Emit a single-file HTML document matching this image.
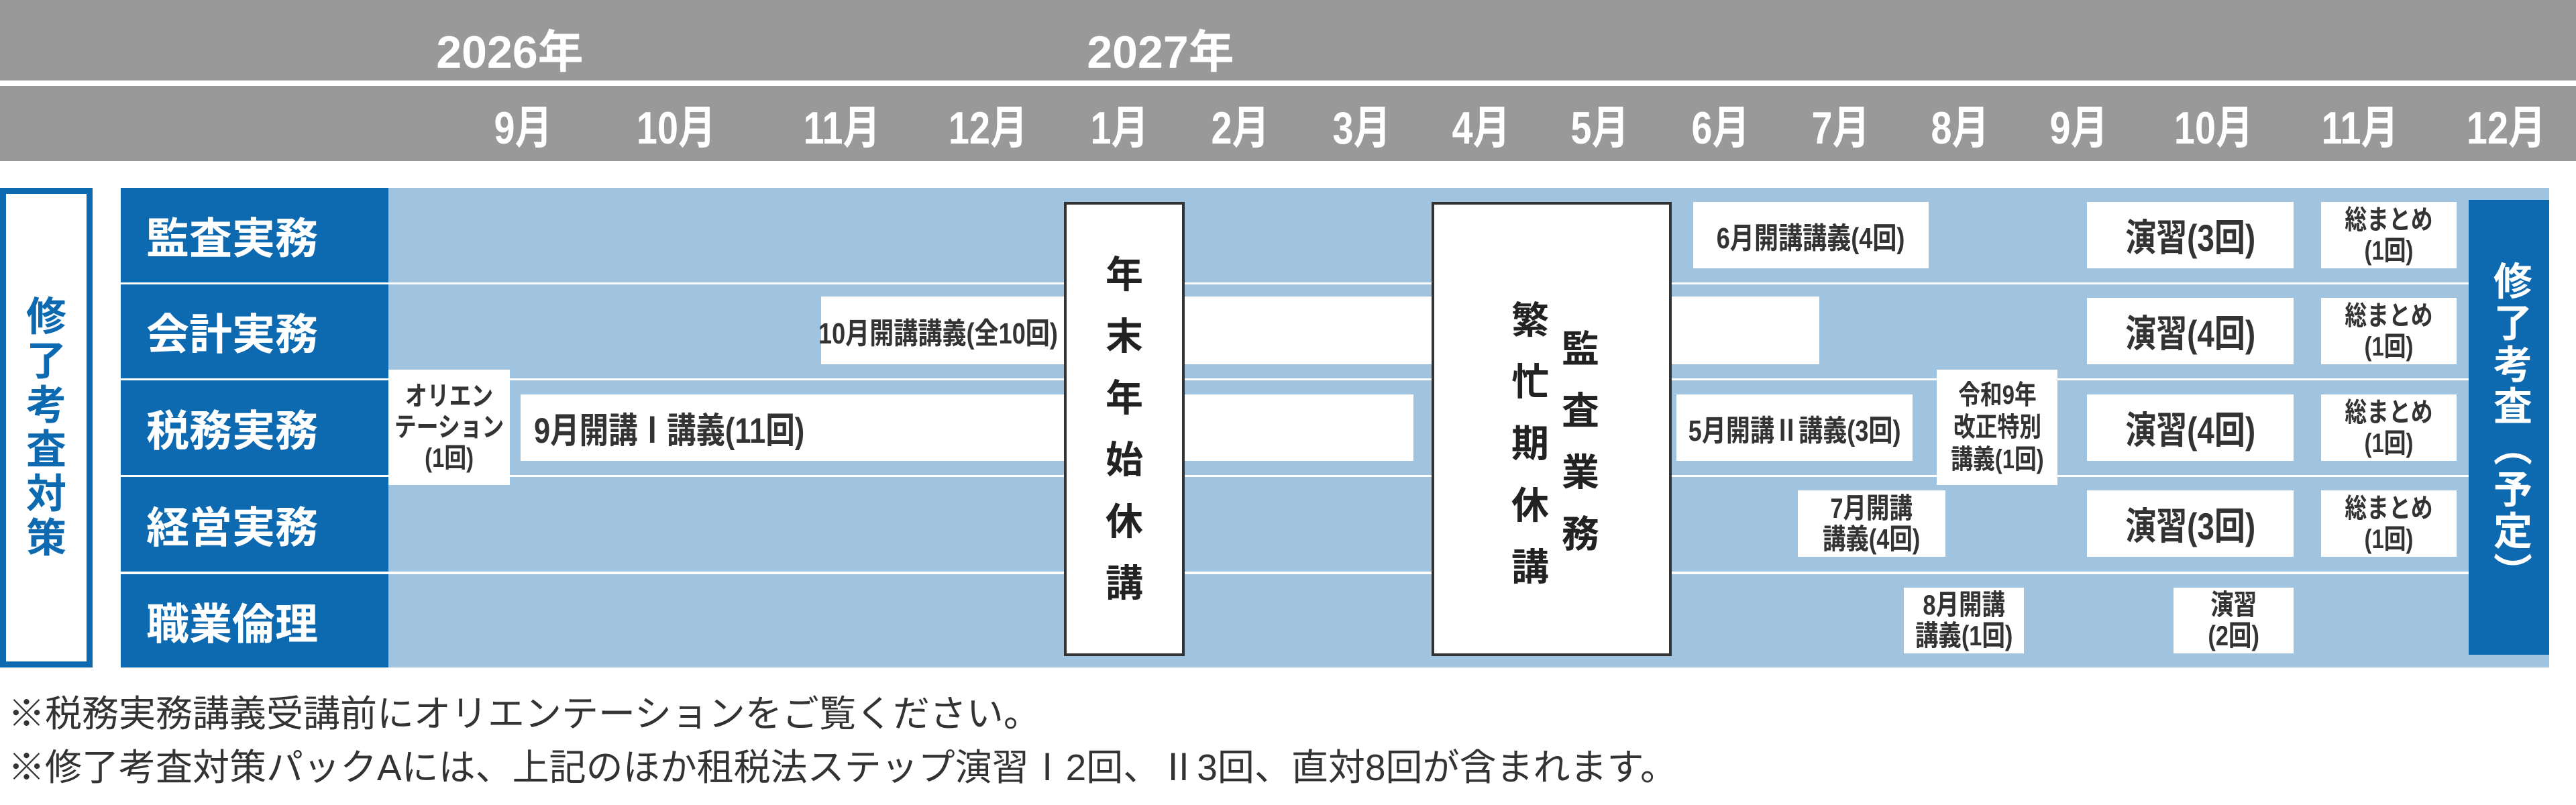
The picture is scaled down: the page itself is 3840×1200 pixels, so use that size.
<!DOCTYPE html>
<html><head><meta charset="utf-8">
<style>
*{margin:0;padding:0;box-sizing:border-box}
body{width:3840px;height:1200px;background:#fff;position:relative;overflow:hidden;font-family:"Liberation Sans","Noto Sans CJK JP",sans-serif;}
.a{position:absolute}
.c{position:absolute;display:flex;align-items:center;justify-content:center;text-align:center}
.s{display:inline-block;transform:scaleX(0.82);white-space:nowrap}
.w{background:#fff;color:#333;font-weight:bold}
.hd{color:#fff;font-weight:bold;font-size:68px}
.cat{background:#0d6ab0;color:#fff;font-weight:bold;font-size:64px;left:180px;width:399px;justify-content:flex-start;padding-left:38px}
.v{line-height:1}
</style></head><body>
<div class="a" style="left:0;top:0;width:3840px;height:120px;background:#999"></div>
<div class="a" style="left:0;top:128px;width:3840px;height:112px;background:#999"></div>
<div class="c hd" style="left:600px;top:28px;width:320px;height:86px;font-size:68px"><span>2026年</span></div>
<div class="c hd" style="left:1570px;top:28px;width:320px;height:86px;font-size:68px"><span>2027年</span></div>
<div class="c hd" style="left:700px;top:140px;width:160px;height:88px"><span class="s">9月</span></div>
<div class="c hd" style="left:928px;top:140px;width:160px;height:88px"><span class="s">10月</span></div>
<div class="c hd" style="left:1175px;top:140px;width:160px;height:88px"><span class="s">11月</span></div>
<div class="c hd" style="left:1393px;top:140px;width:160px;height:88px"><span class="s">12月</span></div>
<div class="c hd" style="left:1589px;top:140px;width:160px;height:88px"><span class="s">1月</span></div>
<div class="c hd" style="left:1769px;top:140px;width:160px;height:88px"><span class="s">2月</span></div>
<div class="c hd" style="left:1950px;top:140px;width:160px;height:88px"><span class="s">3月</span></div>
<div class="c hd" style="left:2128px;top:140px;width:160px;height:88px"><span class="s">4月</span></div>
<div class="c hd" style="left:2305px;top:140px;width:160px;height:88px"><span class="s">5月</span></div>
<div class="c hd" style="left:2485px;top:140px;width:160px;height:88px"><span class="s">6月</span></div>
<div class="c hd" style="left:2664px;top:140px;width:160px;height:88px"><span class="s">7月</span></div>
<div class="c hd" style="left:2842px;top:140px;width:160px;height:88px"><span class="s">8月</span></div>
<div class="c hd" style="left:3019px;top:140px;width:160px;height:88px"><span class="s">9月</span></div>
<div class="c hd" style="left:3220px;top:140px;width:160px;height:88px"><span class="s">10月</span></div>
<div class="c hd" style="left:3438px;top:140px;width:160px;height:88px"><span class="s">11月</span></div>
<div class="c hd" style="left:3656px;top:140px;width:160px;height:88px"><span class="s">12月</span></div>

<div class="c" style="left:0;top:280px;width:138px;height:715px;border:9px solid #0d6ab0;color:#0d6ab0;font-weight:bold;font-size:60px"><div class="v" style="width:62px;line-height:66px">修了考査対策</div></div>

<div class="a" style="left:579px;top:280px;width:3221px;height:715px;background:#a0c4df"></div>
<div class="c cat" style="top:280px;height:141px"><span>監査実務</span></div>
<div class="c cat" style="top:424px;height:140px"><span>会計実務</span></div>
<div class="c cat" style="top:567px;height:141px"><span>税務実務</span></div>
<div class="c cat" style="top:711px;height:141px"><span>経営実務</span></div>
<div class="c cat" style="top:856px;height:139px"><span>職業倫理</span></div>
<div class="a" style="left:180px;top:421px;width:3620px;height:3px;background:#fff"></div>
<div class="a" style="left:180px;top:564px;width:3620px;height:3px;background:#fff"></div>
<div class="a" style="left:180px;top:708px;width:3620px;height:3px;background:#fff"></div>
<div class="a" style="left:180px;top:852px;width:3620px;height:4px;background:#fff"></div>

<div class="c w" style="left:1224px;top:442px;width:1488px;height:101px;justify-content:flex-start;font-size:44px"><span class="s" style="transform-origin:left;margin-left:-4px">10月開講講義(全10回)</span></div>
<div class="c w" style="left:776px;top:588px;width:1331px;height:99px;justify-content:flex-start;font-size:53px;padding-left:20px"><span class="s" style="transform-origin:left">9月開講Ⅰ講義(11回)</span></div>
<div class="c w" style="left:579px;top:551px;width:181px;height:172px;font-size:40px;line-height:46px"><span class="s">オリエン<br>テーション<br>(1回)</span></div>

<div class="c" style="left:1586px;top:301px;width:180px;height:677px;background:#fff;border:4px solid #333;color:#222;font-weight:bold;font-size:56px"><div style="width:60px;line-height:92px">年末年始休講</div></div>
<div class="a" style="left:2134px;top:301px;width:358px;height:677px;background:#fff;border:4px solid #333;color:#222;font-weight:bold;font-size:56px">
<div class="a" style="left:113px;top:127px;width:60px;line-height:92px;text-align:center">繁忙期休講</div>
<div class="a" style="left:188px;top:170px;width:60px;line-height:92px;text-align:center">監査業務</div>
</div>

<div class="c w" style="left:2524px;top:301px;width:351px;height:99px;font-size:44px"><span class="s">6月開講講義(4回)</span></div>
<div class="c w" style="left:2499px;top:588px;width:352px;height:99px;font-size:44px"><span class="s">5月開講Ⅱ講義(3回)</span></div>
<div class="c w" style="left:2887px;top:551px;width:180px;height:172px;font-size:40px;line-height:48px"><span class="s">令和9年<br>改正特別<br>講義(1回)</span></div>
<div class="c w" style="left:2680px;top:731px;width:220px;height:99px;font-size:42px;line-height:46px"><span class="s">7月開講<br>講義(4回)</span></div>
<div class="c w" style="left:2838px;top:876px;width:179px;height:98px;font-size:42px;line-height:46px"><span class="s">8月開講<br>講義(1回)</span></div>

<div class="c w" style="left:3111px;top:301px;width:308px;height:99px;font-size:56px"><span class="s">演習(3回)</span></div>
<div class="c w" style="left:3111px;top:444px;width:308px;height:99px;font-size:56px"><span class="s">演習(4回)</span></div>
<div class="c w" style="left:3111px;top:588px;width:308px;height:99px;font-size:56px"><span class="s">演習(4回)</span></div>
<div class="c w" style="left:3111px;top:731px;width:308px;height:99px;font-size:56px"><span class="s">演習(3回)</span></div>
<div class="c w" style="left:3240px;top:876px;width:179px;height:98px;font-size:42px;line-height:46px"><span class="s">演習<br>(2回)</span></div>

<div class="c w" style="left:3460px;top:301px;width:202px;height:99px;font-size:40px;line-height:46px"><span class="s">総まとめ<br>(1回)</span></div>
<div class="c w" style="left:3460px;top:444px;width:202px;height:99px;font-size:40px;line-height:46px"><span class="s">総まとめ<br>(1回)</span></div>
<div class="c w" style="left:3460px;top:588px;width:202px;height:99px;font-size:40px;line-height:46px"><span class="s">総まとめ<br>(1回)</span></div>
<div class="c w" style="left:3460px;top:731px;width:202px;height:99px;font-size:40px;line-height:46px"><span class="s">総まとめ<br>(1回)</span></div>

<div class="c" style="left:3680px;top:298px;width:120px;height:678px;background:#0d6ab0;color:#fff;font-weight:bold;font-size:58px"><div style="writing-mode:vertical-rl;line-height:1;letter-spacing:4px">修了考査（予定）</div></div>

<div class="a" style="left:12px;top:1034px;font-size:55px;color:#333;white-space:nowrap;line-height:60px">※税務実務講義受講前にオリエンテーションをご覧ください。</div>
<div class="a" style="left:12px;top:1114px;font-size:55px;color:#333;white-space:nowrap;line-height:60px">※修了考査対策パックAには、上記のほか租税法ステップ演習Ⅰ2回、Ⅱ3回、直対8回が含まれます。</div>
</body></html>
